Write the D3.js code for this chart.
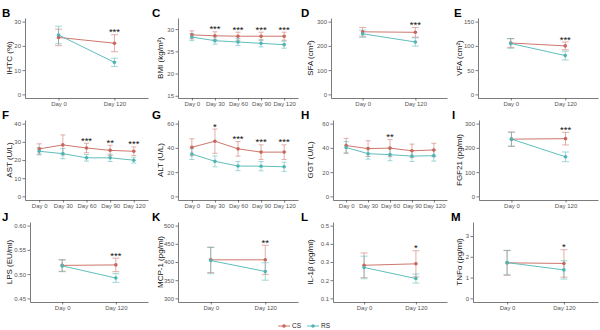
<!DOCTYPE html>
<html>
<head>
<script src="https://d3js.org/d3.v7.min.js"></script>
<style>
  body { margin: 0; background: #fff; }
  text { font-family: "Liberation Sans", Arial, sans-serif; }
</style>
</head>
<body>
<script>
// categories
var days2 = ["Day 0", "Day 120"];
var days5 = ["Day 0", "Day 30", "Day 60", "Day 90", "Day 120"];
var groups = ["CS", "RS"];

// B IHTC
var ihtcCS = [23.5, 21.1], ihtcCSsd = [3.4, 3.5];
var ihtcRS = [24.5, 13.2], ihtcRSsd = [3.6, 1.7];
var ihtcSig = ["", "***"];
// C BMI
var bmiCS = [28.7, 28.5, 28.4, 28.4, 28.4], bmiCSsd = [0.9, 0.9, 0.9, 0.9, 0.9];
var bmiRS = [28.2, 27.4, 27.1, 26.8, 26.5], bmiRSsd = [0.8, 0.8, 0.8, 0.8, 0.8];
var bmiSig = ["", "***", "***", "***", "***"];
// D SFA
var sfaCS = [258, 256], sfaCSsd = [18, 20];
var sfaRS = [250, 216], sfaRSsd = [15, 17];
var sfaSig = ["", "***"];
// E VFA
var vfaCS = [106, 100], vfaCSsd = [9, 8];
var vfaRS = [105, 80], vfaRSsd = [10, 9];
var vfaSig = ["", "***"];
// F AST
var astCS = [26.1, 28.3, 26.6, 25.3, 24.8], astCSsd = [2.8, 5.5, 2.6, 2.8, 2.4];
var astRS = [24.8, 23.5, 21.2, 21.2, 19.9], astRSsd = [2.0, 2.8, 1.8, 2.0, 1.6];
var astSig = ["", "", "***", "**", "***"];
// G ALT
var altCS = [40.5, 45.5, 39.2, 36.5, 36.5], altCSsd = [7, 10, 6, 6, 6];
var altRS = [34.9, 28.9, 25.0, 24.9, 24.4], altRSsd = [4.5, 4.5, 3.8, 3.8, 3.8];
var altSig = ["", "*", "***", "***", "***"];
// H GGT
var ggtCS = [41.9, 39.4, 39.8, 37.6, 38.3], ggtCSsd = [6, 6.5, 7, 5.5, 5.5];
var ggtRS = [40.3, 35.2, 34.4, 33.2, 33.6], ggtRSsd = [5, 4.5, 5, 4.5, 4.5];
var ggtSig = ["", "", "**", "", ""];
// I FGF21
var fgfCS = [236, 238], fgfCSsd = [30, 26];
var fgfRS = [236, 163], fgfRSsd = [28, 20];
var fgfSig = ["", "***"];
// J LPS
var lpsCS = [0.518, 0.519], lpsCSsd = [0.012, 0.014];
var lpsRS = [0.517, 0.492], lpsRSsd = [0.012, 0.009];
var lpsSig = ["", "***"];
// K MCP-1
var mcpCS = [406, 406], mcpCSsd = [35, 40];
var mcpRS = [404, 374], mcpRSsd = [36, 24];
var mcpSig = ["", "**"];
// L IL-1b
var ilCS = [0.282, 0.29], ilCSsd = [0.068, 0.072];
var ilRS = [0.27, 0.209], ilRSsd = [0.062, 0.025];
var ilSig = ["", "*"];
// M TNFa
var tnfCS = [1.71, 1.68], tnfCSsd = [0.6, 0.66];
var tnfRS = [1.72, 1.37], tnfRSsd = [0.58, 0.44];
var tnfSig = ["", "*"];

var colors = { CS: "#C8665B", RS: "#4DB5B4" };

var rowTop = [18, 120, 222], rowBottom = [98, 200, 302];
var colRight = [148, 298, 447, 598];

var panels = [
    { tag: "B", title: "IHTC (%)", row: 0, col: 0, left: 25, tagX: 2, titleX: 9, days: days2, cs: ihtcCS, csSd: ihtcCSsd, rs: ihtcRS, rsSd: ihtcRSsd, sig: ihtcSig, domain: [-1.5, 31.5], ticks: [0, 10, 20, 30], fmt: "d" },
    { tag: "C", title: "BMI (kg/m²)", row: 0, col: 1, left: 178, tagX: 152, titleX: 160, days: days5, cs: bmiCS, csSd: bmiCSsd, rs: bmiRS, rsSd: bmiRSsd, sig: bmiSig, domain: [14.5, 32.5], ticks: [15, 20, 25, 30], fmt: "d" },
    { tag: "D", title: "SFA (cm²)", row: 0, col: 2, left: 331, tagX: 301, titleX: 310, days: days2, cs: sfaCS, csSd: sfaCSsd, rs: sfaRS, rsSd: sfaRSsd, sig: sfaSig, domain: [-15, 315], ticks: [0, 100, 200, 300], fmt: "d" },
    { tag: "E", title: "VFA (cm²)", row: 0, col: 3, left: 478, tagX: 454, titleX: 459, days: days2, cs: vfaCS, csSd: vfaCSsd, rs: vfaRS, rsSd: vfaRSsd, sig: vfaSig, domain: [-7.5, 157.5], ticks: [0, 50, 100, 150], fmt: "d" },
    { tag: "F", title: "AST (U/L)", row: 1, col: 0, left: 25, tagX: 2, titleX: 9, days: days5, cs: astCS, csSd: astCSsd, rs: astRS, rsSd: astRSsd, sig: astSig, domain: [-2, 42], ticks: [0, 10, 20, 30, 40], fmt: "d" },
    { tag: "G", title: "ALT (U/L)", row: 1, col: 1, left: 178, tagX: 152, titleX: 160, days: days5, cs: altCS, csSd: altCSsd, rs: altRS, rsSd: altRSsd, sig: altSig, domain: [-3, 63], ticks: [0, 20, 40, 60], fmt: "d" },
    { tag: "H", title: "GGT (U/L)", row: 1, col: 2, left: 333, tagX: 301, titleX: 310, days: days5, cs: ggtCS, csSd: ggtCSsd, rs: ggtRS, rsSd: ggtRSsd, sig: ggtSig, domain: [-3, 63], ticks: [0, 20, 40, 60], fmt: "d" },
    { tag: "I", title: "FGF21 (pg/ml)", row: 1, col: 3, left: 479, tagX: 452, titleX: 459, days: days2, cs: fgfCS, csSd: fgfCSsd, rs: fgfRS, rsSd: fgfRSsd, sig: fgfSig, domain: [-15, 315], ticks: [0, 100, 200, 300], fmt: "d" },
    { tag: "J", title: "LPS (EU/ml)", row: 2, col: 0, left: 30, tagX: 2, titleX: 9, days: days2, cs: lpsCS, csSd: lpsCSsd, rs: lpsRS, rsSd: lpsRSsd, sig: lpsSig, domain: [0.4425, 0.6075], ticks: [0.45, 0.5, 0.55, 0.6], fmt: ".2f" },
    { tag: "K", title: "MCP-1 (pg/ml)", row: 2, col: 1, left: 178, tagX: 152, titleX: 160, days: days2, cs: mcpCS, csSd: mcpCSsd, rs: mcpRS, rsSd: mcpRSsd, sig: mcpSig, domain: [290, 510], ticks: [300, 350, 400, 450, 500], fmt: "d" },
    { tag: "L", title: "IL-1β (pg/ml)", row: 2, col: 2, left: 333, tagX: 301, titleX: 310, days: days2, cs: ilCS, csSd: ilCSsd, rs: ilRS, rsSd: ilRSsd, sig: ilSig, domain: [0.08, 0.52], ticks: [0.1, 0.2, 0.3, 0.4, 0.5], fmt: ".1f" },
    { tag: "M", title: "TNFα (pg/ml)", row: 2, col: 3, left: 473, tagX: 451, titleX: 459, days: days2, cs: tnfCS, csSd: tnfCSsd, rs: tnfRS, rsSd: tnfRSsd, sig: tnfSig, domain: [-0.175, 3.675], ticks: [0, 1, 2, 3], fmt: "d" }
];

var svg = d3.select("body").append("svg")
    .attr("width", 600)
    .attr("height", 330);

svg.append("rect").attr("width", 600).attr("height", 330).attr("fill", "#fff");

function styleAxis(g) {
    g.selectAll("path").attr("stroke", "#444").attr("stroke-width", 0.7);
    g.selectAll("line").attr("stroke", "#444").attr("stroke-width", 0.7);
    g.selectAll("text").attr("fill", "#555").style("font-size", "6px")
        .style("font-family", "'Liberation Sans', Arial, sans-serif");
}

panels.forEach(function (p) {
    var top = rowTop[p.row], bottom = rowBottom[p.row];
    var x = d3.scalePoint().domain(p.days).range([p.left, colRight[p.col]]).padding(0.6);
    var y = d3.scaleLinear().domain(p.domain).range([bottom, top]);
    var g = svg.append("g");

    g.append("g")
        .attr("transform", "translate(0," + bottom + ")")
        .call(d3.axisBottom(x).tickSizeInner(2.5).tickSizeOuter(0).tickPadding(1.5))
        .call(styleAxis);

    g.append("g")
        .attr("transform", "translate(" + p.left + ",0)")
        .call(d3.axisLeft(y).tickValues(p.ticks).tickFormat(d3.format(p.fmt))
            .tickSizeInner(2.5).tickSizeOuter(0).tickPadding(1.5))
        .call(styleAxis);

    g.append("text")
        .attr("transform", "translate(" + (p.titleX + 3) + "," + ((top + bottom) / 2) + ") rotate(-90)")
        .attr("text-anchor", "middle")
        .style("font-size", "8px")
        .attr("fill", "#111")
        .text(p.title);

    g.append("text")
        .attr("x", p.tagX)
        .attr("y", top - 1)
        .style("font-size", "11.5px")
        .style("font-weight", "bold")
        .attr("fill", "#000")
        .text(p.tag);

    var series = [
        { key: "CS", m: p.cs, sd: p.csSd },
        { key: "RS", m: p.rs, sd: p.rsSd }
    ];
    var capW = p.days.length > 2 ? 2.5 : 3.5;

    series.forEach(function (s) {
        var eb = g.append("g").attr("stroke", colors[s.key]).attr("stroke-width", 0.7).attr("opacity", 0.75);
        p.days.forEach(function (d, i) {
            var cx = x(d), hi = y(s.m[i] + s.sd[i]), lo = y(s.m[i] - s.sd[i]);
            eb.append("line").attr("x1", cx).attr("x2", cx).attr("y1", hi).attr("y2", lo);
            eb.append("line").attr("x1", cx - capW).attr("x2", cx + capW).attr("y1", hi).attr("y2", hi);
            eb.append("line").attr("x1", cx - capW).attr("x2", cx + capW).attr("y1", lo).attr("y2", lo);
        });
    });

    series.forEach(function (s) {
        var line = d3.line()
            .x(function (d, i) { return x(p.days[i]); })
            .y(function (d) { return y(d); });
        g.append("path")
            .datum(s.m)
            .attr("d", line)
            .attr("fill", "none")
            .attr("stroke", colors[s.key])
            .attr("stroke-width", 0.9);
    });

    series.forEach(function (s) {
        g.selectAll(null)
            .data(s.m)
            .enter().append("circle")
            .attr("cx", function (d, i) { return x(p.days[i]); })
            .attr("cy", function (d) { return y(d); })
            .attr("r", 1.8)
            .attr("fill", colors[s.key]);
    });

    p.days.forEach(function (d, i) {
        if (!p.sig[i]) return;
        var topVal = Math.max(p.cs[i] + p.csSd[i], p.rs[i] + p.rsSd[i]);
        g.append("text")
            .attr("x", x(d))
            .attr("y", y(topVal) + 0.5)
            .attr("text-anchor", "middle")
            .style("font-size", "9.5px")
            .attr("fill", "#111")
            .text(p.sig[i]);
    });
});

// legend
var legend = svg.append("g").attr("transform", "translate(0,326)");
var legendX = { CS: 278, RS: 307 };
groups.forEach(function (k) {
    var lx = legendX[k];
    legend.append("line").attr("x1", lx).attr("x2", lx + 12).attr("y1", 0).attr("y2", 0)
        .attr("stroke", colors[k]).attr("stroke-width", 0.9);
    legend.append("circle").attr("cx", lx + 6).attr("cy", 0).attr("r", 1.8).attr("fill", colors[k]);
    legend.append("text").attr("x", lx + 14).attr("y", 2.3)
        .style("font-size", "6.5px").attr("fill", "#222").text(k);
});
</script>
</body>
</html>
